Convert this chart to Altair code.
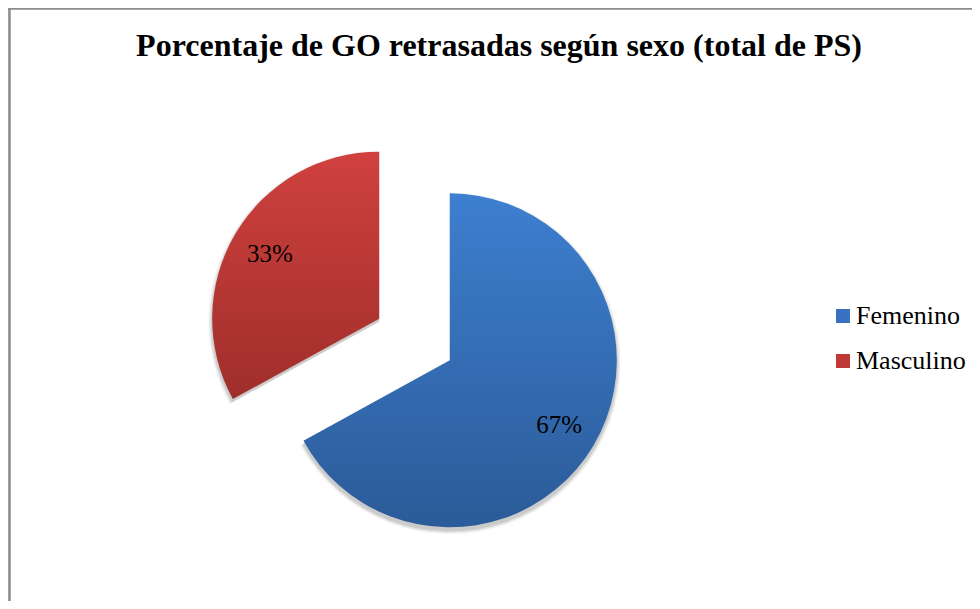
import altair as alt
import pandas as pd

# ---- data ----
categories = ["Femenino", "Masculino"]
values = [67, 33]
legend_colors = ["#3872c0", "#bf3a37"]

TITLE = "Porcentaje de GO retrasadas según sexo (total de PS)"

df = pd.DataFrame({"cat": categories, "value": values, "idx": list(range(len(categories)))})

W, H = 964, 593
CX, CY = 406.5, 331.5    # pie centre (pixels in view)
R = 167                  # pie radius
EXPLODE = 41             # explode distance
LABEL_R = 127            # label distance from slice centre

blue_grad = {
    "gradient": "linear", "x1": 0, "y1": 0, "x2": 0, "y2": 1,
    "stops": [{"offset": 0, "color": "#3d7fd0"}, {"offset": 1, "color": "#2b5b98"}],
}
red_grad = {
    "gradient": "linear", "x1": 0, "y1": 0, "x2": 0, "y2": 1,
    "stops": [{"offset": 0, "color": "#d0413e"}, {"offset": 1, "color": "#9f2e2b"}],
}

base = (
    alt.Chart(df)
    .transform_joinaggregate(total="sum(value)")
    .transform_window(cum="sum(value)", sort=[alt.SortField("idx")])
    .transform_calculate(
        a1="datum.cum / datum.total * 2 * PI",
        a0="(datum.cum - datum.value) / datum.total * 2 * PI",
    )
    .transform_calculate(mid="(datum.a0 + datum.a1) / 2")
    .transform_calculate(
        cx=f"{CX} + {EXPLODE} * sin(datum.mid)",
        cy=f"{CY} - {EXPLODE} * cos(datum.mid)",
    )
    .transform_calculate(
        lx=f"datum.cx + {LABEL_R} * sin(datum.mid)",
        ly=f"datum.cy - {LABEL_R} * cos(datum.mid)",
        label="datum.value + '%'",
    )
)

# soft shadow (a few faint, slightly larger arcs shifted down)
shadows = []
for extra, op in [(4, 0.035), (3, 0.045), (2, 0.06), (1, 0.08)]:
    shadows.append(
        base.mark_arc(radius=R + extra, stroke=None, color="black", opacity=op, yOffset=3).encode(
            theta=alt.Theta("a0:Q", scale=None),
            theta2="a1:Q",
            x=alt.X("cx:Q", scale=None, axis=None),
            y=alt.Y("cy:Q", scale=None, axis=None),
        )
    )

arcs = base.mark_arc(radius=R, stroke=None).encode(
    theta=alt.Theta("a0:Q", scale=None),
    theta2="a1:Q",
    x=alt.X("cx:Q", scale=None, axis=None),
    y=alt.Y("cy:Q", scale=None, axis=None),
    color=alt.condition("datum.cat == 'Femenino'", alt.value(blue_grad), alt.value(red_grad)),
)

labels = base.mark_text(
    font="Liberation Serif", fontSize=25, color="black", align="center", baseline="middle"
).encode(
    x=alt.X("lx:Q", scale=None, axis=None),
    y=alt.Y("ly:Q", scale=None, axis=None),
    text="label:N",
)

legend_layer = base.mark_square(opacity=0).encode(
    x=alt.X("cx:Q", scale=None, axis=None),
    y=alt.Y("cy:Q", scale=None, axis=None),
    color=alt.Color(
        "cat:N",
        scale=alt.Scale(domain=categories, range=legend_colors),
        legend=alt.Legend(
            title=None,
            orient="none",
            legendX=822,
            legendY=295,
            symbolType="square",
            symbolSize=196,
            symbolStrokeWidth=0,
            symbolOpacity=1,
            labelFont="Liberation Serif",
            labelFontSize=26,
            labelColor="black",
            labelOffset=0,
            rowPadding=19,
        ),
    ),
)

frame_left = alt.Chart(df).mark_rule(color="#8c8c8c", strokeWidth=2).encode(
    x=alt.value(1.5), y=alt.value(0), y2=alt.value(H)
)
frame_top = alt.Chart(df).mark_rule(color="#8c8c8c", strokeWidth=2).encode(
    y=alt.value(0.5), x=alt.value(0), x2=alt.value(W)
)

chart = (
    alt.layer(frame_left, frame_top, *shadows, arcs, labels, legend_layer)
    .properties(
        width=W,
        height=H,
        autosize=alt.AutoSizeParams(type="none"),
        padding=0,
        title=alt.TitleParams(
            TITLE,
            font="Liberation Serif",
            fontSize=32,
            fontWeight="bold",
            color="black",
            anchor="middle",
            offset=-56,
            dx=9,
        ),
    )
    .configure_view(stroke=None)
    .configure(background="white")
)

chart.save("out.html", embed_options={"renderer": "svg", "actions": False})
